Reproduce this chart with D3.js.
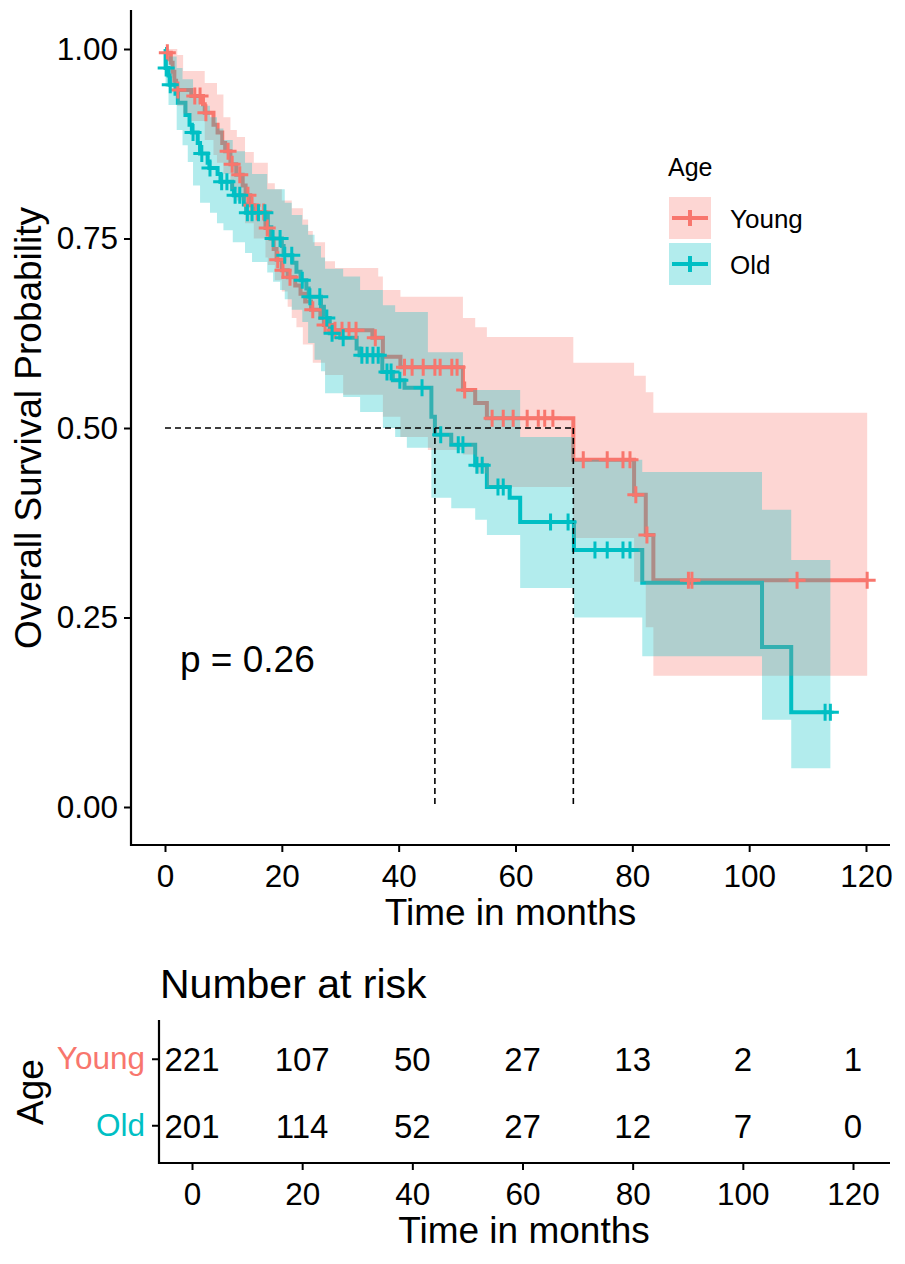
<!DOCTYPE html>
<html><head><meta charset="utf-8">
<script src="https://cdn.jsdelivr.net/npm/d3@7"></script>
<style>body{margin:0;background:#fff} text{font-family:"Liberation Sans",Arial,sans-serif;fill:#000}</style>
</head><body><svg id="c" width="905" height="1264"></svg>
<script>
// ---------------- data ----------------
const groups = ["Young", "Old"];
const groupColors = ["#F8766D", "#00BFC4"];

const youngTimes = [0,0.2,1.0,1.3,1.6,1.9,4.5,6.5,6.8,8.3,9.0,9.8,10.3,11.2,12.2,13.3,13.8,14.6,15.2,17.2,18.0,18.6,19.1,20.0,21.0,22.3,23.2,24.0,25.0,26.6,27.2,28.6,35.5,37.3,40.3,51.0,53.1,55.1,69.9,80.3,82.3,83.6];
const youngSurv  = [1,0.995,0.982,0.970,0.958,0.946,0.938,0.927,0.916,0.900,0.890,0.876,0.865,0.848,0.834,0.820,0.807,0.794,0.785,0.764,0.750,0.736,0.722,0.708,0.699,0.688,0.677,0.667,0.656,0.645,0.636,0.629,0.619,0.594,0.580,0.550,0.533,0.513,0.458,0.412,0.359,0.299];
const youngEnd = 120.2;
const youngCensor = [0.4,2.2,5.1,6.0,7.0,10.8,11.5,12.8,14.2,14.9,15.8,16.9,17.5,19.3,20.2,21.4,25.3,27.4,29.1,30.3,31.5,32.7,36.0,41.0,42.3,44.2,46.2,47.1,49.1,50.0,51.3,56.0,57.9,59.6,62.0,63.9,65.0,66.4,71.6,75.7,78.4,79.6,80.6,82.5,89.6,90.2,108.2,120.2];

const youngCiTimes = [0,0.2,1.0,1.6,2.1,3.1,4.5,6.8,8.3,8.9,10.0,11.2,12.3,13.7,15.2,17.2,17.6,18.8,20.0,21.0,21.7,22.5,23.6,24.5,25.3,27.4,29.1,30.5,36.5,37.3,40.3,45.0,51.0,53.1,55.1,69.9,80.3,82.3,83.6];
const youngLower   = [1,0.985,0.962,0.945,0.925,0.915,0.905,0.88,0.86,0.85,0.835,0.815,0.80,0.77,0.75,0.725,0.715,0.695,0.68,0.66,0.645,0.633,0.61,0.61,0.586,0.57,0.57,0.544,0.544,0.515,0.488,0.471,0.465,0.44,0.422,0.355,0.297,0.237,0.173];
const youngUpper   = [1,1,1,1,0.992,0.971,0.971,0.955,0.955,0.94,0.91,0.893,0.884,0.864,0.85,0.85,0.823,0.815,0.80,0.80,0.79,0.79,0.775,0.76,0.745,0.72,0.711,0.711,0.70,0.682,0.673,0.673,0.645,0.633,0.62,0.586,0.569,0.547,0.52];

const oldTimes = [0,0.1,0.6,0.8,1.8,2.2,3.5,4.2,4.6,5.6,6.0,7.3,7.6,9.0,9.5,11.5,11.8,13.5,13.9,17.6,18.2,20.0,20.3,21.8,22.5,23.2,24.2,24.6,26.7,27.2,28.2,30.0,32.8,33.3,37.2,39.0,41.0,45.6,46.2,49.0,53.1,55.1,59.0,60.8,70.0,81.7,102.2,107.2];
const oldSurv  = [1,0.975,0.965,0.953,0.941,0.929,0.913,0.900,0.890,0.876,0.862,0.850,0.843,0.835,0.825,0.815,0.807,0.795,0.784,0.765,0.750,0.740,0.728,0.718,0.706,0.695,0.684,0.673,0.660,0.645,0.625,0.619,0.605,0.596,0.574,0.563,0.553,0.515,0.491,0.478,0.451,0.422,0.408,0.376,0.339,0.296,0.211,0.125];
const oldEnd = 113.9;
const oldCensor = [0.2,0.9,4.8,6.3,7.7,9.7,10.6,12.0,12.8,14.1,14.9,16.0,17.1,18.5,19.7,20.5,21.7,23.5,24.8,26.5,27.7,28.6,30.5,33.7,34.6,35.6,36.5,38.0,38.7,40.2,44.0,47.2,50.2,51.0,53.4,54.3,57.0,57.9,66.0,69.0,73.6,75.7,78.4,79.6,113.0,113.9];

const oldCiTimes = [0,0.1,0.6,2.0,3.0,3.9,4.8,6.0,7.7,8.9,10.0,11.6,13.7,14.9,17.5,18.5,19.7,20.5,21.7,23.5,24.5,25.6,26.7,27.4,30.5,33.4,37.3,39.4,41.4,45.0,45.6,49.0,51.0,53.1,55.1,60.8,70.0,81.7,102.2,107.2];
const oldLower   = [1,0.95,0.926,0.893,0.873,0.851,0.82,0.797,0.784,0.77,0.761,0.745,0.731,0.719,0.705,0.693,0.682,0.67,0.656,0.64,0.612,0.59,0.575,0.546,0.541,0.521,0.50,0.488,0.474,0.474,0.408,0.394,0.394,0.379,0.359,0.289,0.25,0.199,0.115,0.051];
const oldUpper   = [1,1,0.99,0.975,0.96,0.96,0.94,0.925,0.91,0.895,0.88,0.865,0.85,0.835,0.815,0.815,0.815,0.797,0.781,0.768,0.755,0.74,0.725,0.71,0.70,0.682,0.662,0.653,0.653,0.60,0.60,0.60,0.55,0.55,0.55,0.488,0.458,0.442,0.392,0.326];

const medianTimes = [46.2, 69.9];
const pText = "p = 0.26";

const xTicks = [0,20,40,60,80,100,120];
const yTicks = [0,0.25,0.5,0.75,1];
const yTickLabels = ["0.00","0.25","0.50","0.75","1.00"];

const riskTimes = [0,20,40,60,80,100,120];
const youngRisk = [221,107,50,27,13,2,1];
const oldRisk   = [201,114,52,27,12,7,0];

// ---------------- drawing ----------------
const svg = d3.select("#c");
const P = {left:131, right:890, top:10, bottom:845};
const x = d3.scaleLinear().domain([0,120]).range([165,866]);
const y = d3.scaleLinear().domain([0,1]).range([807,49]);

const series = [
  {name:"Young", color:groupColors[0], times:youngTimes, surv:youngSurv, end:youngEnd, censor:youngCensor,
   ciT:youngCiTimes, lo:youngLower, hi:youngUpper},
  {name:"Old", color:groupColors[1], times:oldTimes, surv:oldSurv, end:oldEnd, censor:oldCensor,
   ciT:oldCiTimes, lo:oldLower, hi:oldUpper}
];

function sAt(s, t){ let v = s.surv[0]; s.times.forEach((tt,i)=>{ if (tt <= t) v = s.surv[i]; }); return v; }

const line = d3.line().x(d=>x(d[0])).y(d=>y(d[1])).curve(d3.curveStepAfter);
const area = d3.area().x(d=>x(d[0])).y0(d=>y(d[1])).y1(d=>y(d[2])).curve(d3.curveStepAfter);

// lines
series.forEach(s=>{
  const pts = s.times.map((t,i)=>[t, s.surv[i]]);
  pts.push([s.end, s.surv[s.surv.length-1]]);
  svg.append("path").attr("d", line(pts)).attr("fill","none")
    .attr("stroke", s.color).attr("stroke-width", 4);
});
// ribbons
series.forEach(s=>{
  const pts = s.ciT.map((t,i)=>[t, s.lo[i], s.hi[i]]);
  pts.push([s.end, s.lo[s.lo.length-1], s.hi[s.hi.length-1]]);
  svg.append("path").attr("d", area(pts)).attr("fill", s.color).attr("fill-opacity", 0.3);
});
// median lines
const dash = svg.append("g").attr("stroke","#000").attr("stroke-width",1.6).attr("stroke-dasharray","6,4").attr("fill","none");
dash.append("line").attr("x1", x(0)).attr("x2", x(d3.max(medianTimes))).attr("y1", y(0.5)).attr("y2", y(0.5));
medianTimes.forEach(m=>{
  dash.append("line").attr("x1", x(m)).attr("x2", x(m)).attr("y1", y(0.5)).attr("y2", y(0));
});
// censor marks
series.forEach(s=>{
  svg.append("g").selectAll("path").data(s.censor).join("path")
    .attr("d","M-8.5,0H8.5M0,-8.5V8.5")
    .attr("transform", t=>`translate(${x(t)},${y(sAt(s,t))})`)
    .attr("stroke", s.color).attr("stroke-width", 3).attr("fill","none");
});

// axes main
const axX = svg.append("g").attr("transform",`translate(0,${P.bottom})`)
  .call(d3.axisBottom(x).tickValues(xTicks).tickSize(7).tickPadding(13).tickFormat(d3.format("d")));
axX.select(".domain").remove();
axX.selectAll("line").attr("stroke","#000").attr("stroke-width",2);
axX.selectAll("text").attr("font-size","31.5px").attr("font-family","Liberation Sans, Arial, sans-serif");
const axY = svg.append("g").attr("transform",`translate(${P.left},0)`)
  .call(d3.axisLeft(y).tickValues(yTicks).tickSize(7).tickPadding(6).tickFormat((d,i)=>yTickLabels[i]));
axY.select(".domain").remove();
axY.selectAll("line").attr("stroke","#000").attr("stroke-width",2);
axY.selectAll("text").attr("font-size","31.5px").attr("font-family","Liberation Sans, Arial, sans-serif");
svg.append("path").attr("d",`M${P.left},${P.top}V${P.bottom}H${P.right}`).attr("fill","none").attr("stroke","#000").attr("stroke-width",2.2);

svg.append("text").attr("x",(P.left+P.right)/2).attr("y",925).attr("text-anchor","middle").attr("font-size","37px").text("Time in months");
svg.append("text").attr("transform",`translate(41,${(49+807)/2}) rotate(-90)`).attr("text-anchor","middle").attr("font-size","37px").text("Overall Survival Probability");
svg.append("text").attr("x",180).attr("y",672).attr("font-size","37px").text(pText);

// legend
const lg = svg.append("g");
lg.append("text").attr("x",668).attr("y",176).attr("font-size","25px").text("Age");
series.forEach((s,i)=>{
  const ky = 197 + i*46;
  lg.append("rect").attr("x",669).attr("y",ky).attr("width",42).attr("height",42).attr("fill",s.color).attr("fill-opacity",0.3);
  lg.append("path").attr("d",`M672,${ky+21}H708M690,${ky+13}V${ky+29}`).attr("stroke",s.color).attr("stroke-width",4).attr("fill","none");
  lg.append("text").attr("x",730).attr("y",ky+31).attr("font-size","26px").text(s.name);
});

// ---------------- risk table ----------------
const R = {left:159, right:890, top:1020, bottom:1163};
const rx = d3.scaleLinear().domain([0,120]).range([192,853]);
const ry = d3.scaleBand().domain(groups).range([1026,1159]).padding(0);
svg.append("text").attr("x",160).attr("y",998).attr("font-size","41px").text("Number at risk");
const riskData = [youngRisk, oldRisk];
groups.forEach((g,gi)=>{
  const cy = ry(g) + ry.bandwidth()/2;
  svg.append("g").selectAll("text").data(riskData[gi]).join("text")
    .attr("x",(d,i)=>rx(riskTimes[i])).attr("y",cy+12).attr("text-anchor","middle")
    .attr("font-size","33px").text(d=>d);
});
const rAxY = svg.append("g").attr("transform",`translate(${R.left},0)`)
  .call(d3.axisLeft(ry).tickSize(7).tickPadding(7));
rAxY.select(".domain").remove();
rAxY.selectAll("line").attr("stroke","#000").attr("stroke-width",2);
rAxY.selectAll("text").attr("font-size","31.5px").attr("font-family","Liberation Sans, Arial, sans-serif")
  .style("fill",(d,i)=>groupColors[i]);
const rAxX = svg.append("g").attr("transform",`translate(0,${R.bottom})`)
  .call(d3.axisBottom(rx).tickValues(riskTimes).tickSize(7).tickPadding(13).tickFormat(d3.format("d")));
rAxX.select(".domain").remove();
rAxX.selectAll("line").attr("stroke","#000").attr("stroke-width",2);
rAxX.selectAll("text").attr("font-size","31.5px").attr("font-family","Liberation Sans, Arial, sans-serif");
svg.append("path").attr("d",`M${R.left},${R.top}V${R.bottom}H${R.right}`).attr("fill","none").attr("stroke","#000").attr("stroke-width",2.2);
svg.append("text").attr("x",524).attr("y",1243).attr("text-anchor","middle").attr("font-size","37px").text("Time in months");
svg.append("text").attr("transform",`translate(43,1092) rotate(-90)`).attr("text-anchor","middle").attr("font-size","37px").text("Age");
</script></body></html>
